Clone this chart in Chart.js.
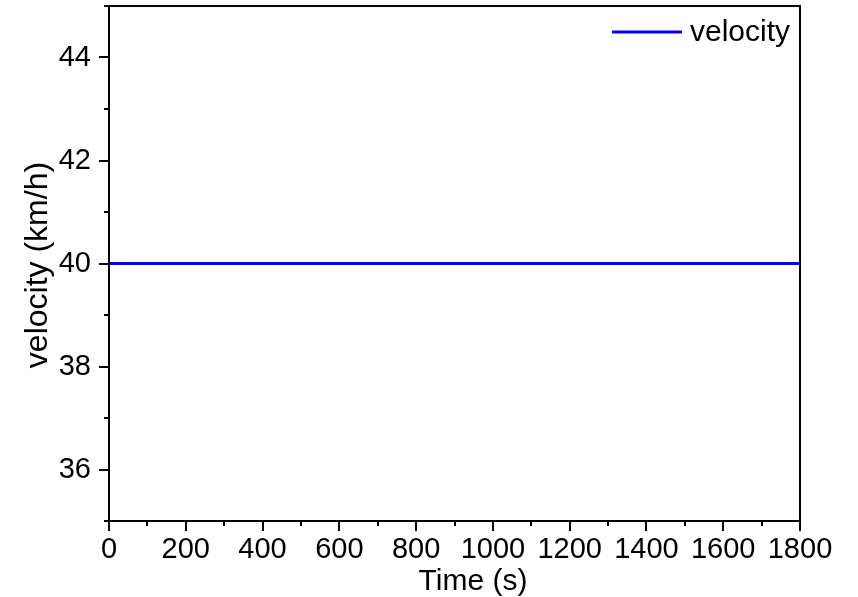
<!DOCTYPE html>
<html>
<head>
<meta charset="utf-8">
<script src="https://cdn.jsdelivr.net/npm/chart.js@4"></script>
<style>
  html, body { margin: 0; padding: 0; background: #fff; }
  #wrap { width: 858px; height: 597px; }
</style>
</head>
<body>
<div id="wrap"><canvas id="grafico" width="858" height="597"></canvas></div>
<script>
// dados
const tempo = [0, 1800]
const velocidade = [40, 40]
const ticksX = [0, 200, 400, 600, 800, 1000, 1200, 1400, 1600, 1800]
const ticksY = [36, 38, 40, 42, 44]
const tituloX = "Time (s)"
const tituloY = "velocity (km/h)"

const fonte = "'Liberation Sans', Arial, sans-serif"

// moldura, ticks para fora (maiores e menores), títulos e legenda
const eixosPlugin = {
  id: "eixos",
  afterDraw(chart) {
    const ctx = chart.ctx
    const a = chart.chartArea
    const sx = chart.scales.x
    const sy = chart.scales.y
    ctx.save()
    ctx.strokeStyle = "#000"
    ctx.lineWidth = 2
    ctx.strokeRect(a.left, a.top, a.right - a.left, a.bottom - a.top)
    ctx.beginPath()
    for (let v = 0; v <= 1800; v += 100) {
      const px = Math.round(sx.getPixelForValue(v))
      const len = v % 200 === 0 ? 10 : 5
      ctx.moveTo(px, a.bottom)
      ctx.lineTo(px, a.bottom + len)
    }
    for (let v = 35; v <= 45; v += 1) {
      const py = Math.round(sy.getPixelForValue(v))
      const len = v % 2 === 0 ? 10 : 5
      ctx.moveTo(a.left, py)
      ctx.lineTo(a.left - len, py)
    }
    ctx.stroke()

    // títulos dos eixos
    ctx.fillStyle = "#000"
    ctx.textAlign = "center"
    ctx.textBaseline = "alphabetic"
    ctx.font = "30px " + fonte
    ctx.fillText(tituloX, 473, 590)
    ctx.save()
    ctx.translate(38, 265)
    ctx.rotate(-Math.PI / 2)
    ctx.textBaseline = "middle"
    ctx.font = "32px " + fonte
    ctx.fillText(tituloY, 0, 0)
    ctx.restore()

    // legenda
    const ds = chart.data.datasets[0]
    ctx.strokeStyle = ds.borderColor
    ctx.lineWidth = 3
    ctx.beginPath()
    ctx.moveTo(612, 32)
    ctx.lineTo(682, 32)
    ctx.stroke()
    ctx.font = "30px " + fonte
    ctx.textAlign = "left"
    ctx.textBaseline = "middle"
    ctx.fillText(ds.label, 690, 33)
    ctx.restore()
  },
}

new Chart(document.getElementById("grafico").getContext("2d"), {
  type: "line",
  data: {
    datasets: [
      {
        label: "velocity",
        data: tempo.map((t, i) => ({ x: t, y: velocidade[i] })),
        borderColor: "#0000ff",
        borderWidth: 3,
        pointRadius: 0,
        tension: 0,
      },
    ],
  },
  options: {
    responsive: false,
    animation: false,
    layout: { padding: { top: 6, right: 58, left: 0, bottom: 0 } },
    plugins: { legend: { display: false }, tooltip: { enabled: false } },
    scales: {
      x: {
        type: "linear",
        min: 0,
        max: 1800,
        afterBuildTicks: (s) => { s.ticks = ticksX.map((v) => ({ value: v })) },
        afterFit: (s) => {
          s.height = 76
          s.paddingLeft = 0
          s.paddingRight = 0
        },
        grid: { display: false, drawTicks: false },
        border: { display: false },
        ticks: {
          color: "#000",
          font: { family: fonte, size: 29 },
          padding: 12,
          maxRotation: 0,
          autoSkip: false,
          callback: (v) => String(v),
        },
      },
      y: {
        type: "linear",
        min: 35,
        max: 45,
        afterBuildTicks: (s) => { s.ticks = ticksY.map((v) => ({ value: v })) },
        afterFit: (s) => {
          s.width = 109
          s.paddingTop = 0
          s.paddingBottom = 0
        },
        grid: { display: false, drawTicks: false },
        border: { display: false },
        ticks: {
          color: "#000",
          font: { family: fonte, size: 29 },
          padding: 18,
          callback: (v) => String(v),
        },
      },
    },
  },
  plugins: [eixosPlugin],
})
</script>
</body>
</html>
